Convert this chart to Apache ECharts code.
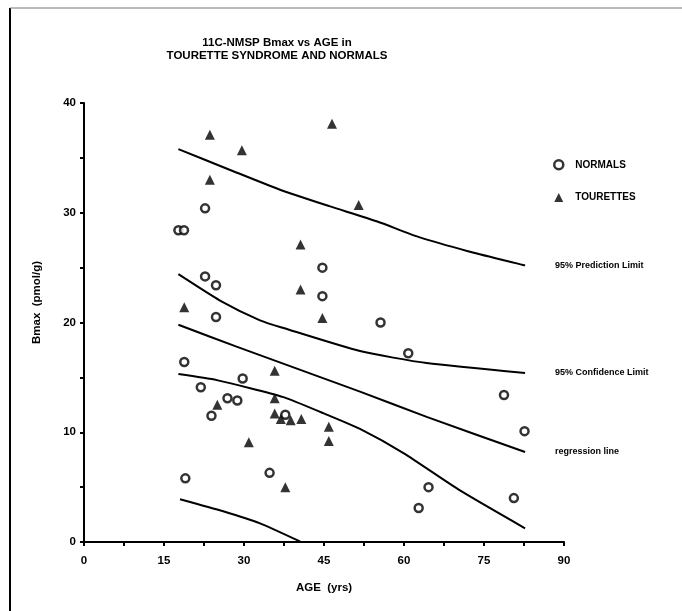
<!DOCTYPE html>
<html>
<head>
<meta charset="utf-8">
<script src="https://cdn.jsdelivr.net/npm/echarts@6/dist/echarts.min.js"></script>
<style>
  html, body { margin: 0; padding: 0; background: #fff; }
  #main { width: 682px; height: 611px; }
</style>
</head>
<body>
<div id="main"></div>
<script>
// normals: [age, Bmax]
var normals = [
    [17.7, 28.4], [18.75, 28.4], [22.7, 30.4], [44.7, 25.0], [22.7, 24.2],
    [24.75, 23.4], [44.7, 22.4], [24.75, 20.5], [18.8, 16.4], [29.75, 14.9],
    [21.9, 14.1], [26.9, 13.1], [28.75, 12.9], [23.9, 11.5], [37.75, 11.6],
    [19.0, 5.8], [34.8, 6.3], [55.6, 20.0], [60.8, 17.2], [78.75, 13.4],
    [82.6, 10.1], [64.6, 5.0], [62.75, 3.1], [80.6, 4.0]
];
// tourettes: [age, Bmax]
var tourettes = [
    [23.6, 37.1], [29.6, 35.7], [46.5, 38.1], [23.6, 33.0], [51.5, 30.7],
    [40.6, 27.1], [40.6, 23.0], [18.8, 21.4], [44.7, 20.4], [35.75, 15.6],
    [35.75, 13.1], [25.0, 12.5], [35.75, 11.7], [36.9, 11.2], [38.75, 11.1],
    [40.75, 11.2], [45.9, 10.5], [45.9, 9.2], [30.9, 9.1], [37.75, 5.0]
];
var upperPrediction = [
    [17.7, 35.8], [27.4, 33.9], [36.75, 32.1], [46, 30.6], [55, 29.2],
    [62.7, 27.8], [72, 26.5], [82.7, 25.2]
];
var upperConfidence = [
    [17.7, 24.4], [25.5, 22.0], [33, 20.2], [37.4, 19.5], [51.75, 17.4],
    [64.25, 16.3], [82.7, 15.4]
];
var regression = [
    [17.7, 19.8], [28.6, 17.8], [51.75, 13.7], [64.25, 11.4], [82.7, 8.2]
];
var lowerConfidence = [
    [17.7, 15.3], [24.9, 14.75], [37.4, 13.2], [45.5, 11.6], [51.75, 10.3],
    [59.9, 8.1], [70.5, 4.7], [82.7, 1.25]
];
var lowerPrediction = [
    [18, 3.9], [26.1, 2.8], [33, 1.7], [40.5, 0.05]
];

var FONT = '"Liberation Sans", Arial, sans-serif';

function curve(name, data, label) {
    var s = {
        name: name,
        type: 'line',
        data: data,
        symbol: 'none',
        smooth: 0.2,
        silent: true,
        lineStyle: { color: '#000', width: 2 },
        z: 2
    };
    if (label) {
        s.endLabel = {
            show: true,
            formatter: label,
            distance: 30,
            color: '#000',
            fontFamily: FONT,
            fontWeight: 'bold',
            fontSize: 9
        };
    }
    return s;
}

var myChart = echarts.init(document.getElementById('main'), null, { renderer: 'canvas' });

var option = {
    backgroundColor: '#fff',
    animation: false,
    title: {
        text: '11C-NMSP Bmax vs AGE in\nTOURETTE SYNDROME AND NORMALS',
        left: 272,
        top: 31,
        textAlign: 'center',
        textStyle: {
            color: '#000',
            fontFamily: FONT,
            fontWeight: 'bold',
            fontSize: 11.5,
            lineHeight: 13,
            align: 'center'
        }
    },
    legend: {
        data: [
            { name: 'NORMALS', itemStyle: { borderWidth: 2.5 } },
            { name: 'TOURETTES' }
        ],
        orient: 'vertical',
        left: 548,
        top: 154,
        itemWidth: 9,
        itemHeight: 9,
        itemGap: 22,
        textStyle: {
            color: '#000',
            fontFamily: FONT,
            fontWeight: 'bold',
            fontSize: 10,
            padding: [0, 0, 0, 7]
        }
    },
    grid: { left: 84, right: 118, top: 103, bottom: 69 },
    xAxis: {
        type: 'value',
        min: 0,
        max: 90,
        interval: 15,
        name: 'AGE  (yrs)',
        nameLocation: 'middle',
        nameGap: 40,
        nameTextStyle: { color: '#000', fontFamily: FONT, fontWeight: 'bold', fontSize: 11.5 },
        axisLine: { lineStyle: { color: '#000', width: 2 } },
        axisTick: { show: true, length: 4, lineStyle: { color: '#000', width: 2 } },
        minorTick: { show: true, splitNumber: 2, length: 4, lineStyle: { color: '#000', width: 2 } },
        axisLabel: { color: '#000', fontFamily: FONT, fontWeight: 'bold', fontSize: 11.5, margin: 13 },
        splitLine: { show: false }
    },
    yAxis: {
        type: 'value',
        min: 0,
        max: 40,
        interval: 10,
        name: 'Bmax  (pmol/g)',
        nameLocation: 'middle',
        nameGap: 41,
        nameRotate: 90,
        nameTextStyle: { color: '#000', fontFamily: FONT, fontWeight: 'bold', fontSize: 11.5, padding: [0, 0, 0, 40] },
        axisLine: { lineStyle: { color: '#000', width: 2 } },
        axisTick: { show: true, length: 4, lineStyle: { color: '#000', width: 2 } },
        minorTick: { show: true, splitNumber: 2, length: 4, lineStyle: { color: '#000', width: 2 } },
        axisLabel: { color: '#000', fontFamily: FONT, fontWeight: 'bold', fontSize: 11.5, margin: 8 },
        splitLine: { show: false }
    },
    series: [
        curve('upperPrediction', upperPrediction, '95% Prediction Limit'),
        curve('upperConfidence', upperConfidence, '95% Confidence Limit'),
        curve('regression', regression, 'regression line'),
        curve('lowerConfidence', lowerConfidence),
        curve('lowerPrediction', lowerPrediction),
        {
            name: 'NORMALS',
            type: 'scatter',
            data: normals,
            symbol: 'circle',
            symbolSize: 8,
            itemStyle: { color: '#fff', borderColor: '#000', borderWidth: 2.5 },
            z: 3
        },
        {
            name: 'TOURETTES',
            type: 'scatter',
            data: tourettes,
            symbol: 'triangle',
            symbolSize: 10,
            itemStyle: { color: '#000' },
            z: 3
        }
    ],
    graphic: [
        { type: 'line', shape: { x1: 10, y1: 8, x2: 10, y2: 611 }, style: { stroke: '#000', lineWidth: 2 } },
        { type: 'line', shape: { x1: 10, y1: 8, x2: 682, y2: 8 }, style: { stroke: '#777', lineWidth: 1 } }
    ]
};

myChart.setOption(option);
</script>
</body>
</html>
